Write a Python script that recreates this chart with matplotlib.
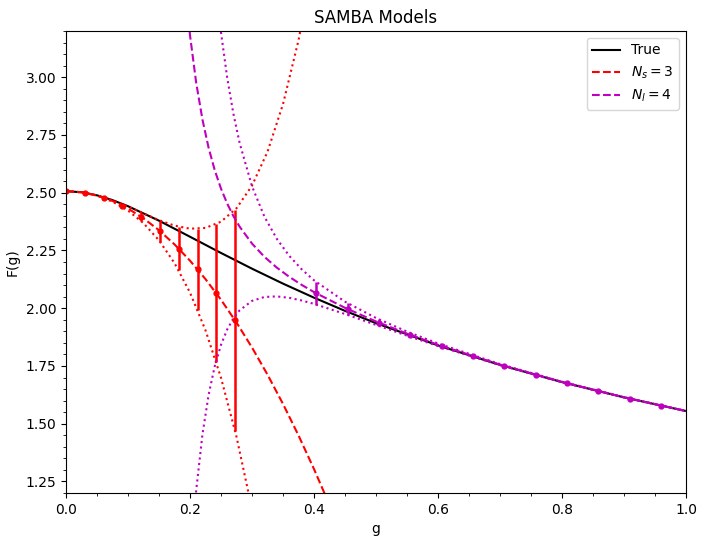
import matplotlib
matplotlib.use("Agg")
from matplotlib import pyplot as plt

# true curve F(g)
g_true = [0.0, 0.025, 0.05, 0.075, 0.1, 0.15, 0.2, 0.25, 0.3, 0.35, 0.4, 0.45,
          0.5, 0.6, 0.7, 0.8, 0.9, 1.0]
F_true = [2.5066, 2.5020, 2.4886, 2.4679, 2.4415, 2.3789, 2.3093, 2.2391, 2.1711,
          2.1064, 2.0456, 1.9885, 1.9353, 1.8389, 1.7545, 1.6801, 1.6140, 1.5548]

# small-g model, N_s = 3
g_low = [0.0, 0.025, 0.05, 0.075, 0.1, 0.125, 0.15, 0.175, 0.2, 0.225, 0.25,
         0.275, 0.3, 0.325, 0.35, 0.375, 0.4, 0.425]
F_low = [2.5066, 2.5019, 2.4878, 2.4643, 2.4314, 2.3891, 2.3374, 2.2763, 2.2058,
         2.1259, 2.0366, 1.9379, 1.8298, 1.7123, 1.5855, 1.4492, 1.3035, 1.1484]
F_low_up = [2.5066, 2.5020, 2.4884, 2.4671, 2.4401, 2.4103, 2.3812, 2.3575,
            2.3442, 2.3476, 2.3745, 2.4327, 2.5305, 2.6774, 2.8835, 3.1597, 3.5179]
F_low_dn = [2.5066, 2.5019, 2.4873, 2.4616, 2.4228, 2.3680, 2.2936, 2.1952,
            2.0674, 1.9043, 1.6988, 1.4432, 1.1292]

g_low_pts = [0.0, 0.0303, 0.0606, 0.0909, 0.1212, 0.1515, 0.1818, 0.2121,
             0.2424, 0.2727]
F_low_pts = [2.5066, 2.4997, 2.4790, 2.4445, 2.3962, 2.3340, 2.2580, 2.1683,
             2.0647, 1.9473]
err_low_pts = [0.0, 0.0001, 0.0012, 0.0059, 0.0187, 0.0456, 0.0945, 0.1751,
               0.2988, 0.4786]

# large-g model, N_l = 4
g_high = [0.19, 0.20, 0.21, 0.22, 0.23, 0.24, 0.25, 0.26, 0.27, 0.28, 0.30, 0.32,
          0.34, 0.36, 0.38, 0.40, 0.45, 0.50, 0.55, 0.60, 0.70, 0.80, 0.90, 1.0]
F_high = [3.4548, 3.1811, 2.9751, 2.8173, 2.6941, 2.5964, 2.5175, 2.4528, 2.3988,
          2.3531, 2.2797, 2.2224, 2.1757, 2.1360, 2.1011, 2.0697, 2.0016, 1.9427,
          1.8900, 1.8418, 1.7558, 1.6807, 1.6143, 1.5550]
F_high_up = [6.5123, 5.4870, 4.7383, 4.1825, 3.7632, 3.4423, 3.1933, 2.9975,
             2.8414, 2.7155, 2.5276, 2.3963, 2.3003, 2.2269, 2.1687, 2.1207,
             2.0282, 1.9577, 1.8988, 1.8473, 1.7581, 1.6818, 1.6149, 1.5553]
F_high_dn = [0.3973, 0.8752, 1.2119, 1.4521, 1.6250, 1.7504, 1.8417, 1.9081,
             1.9562, 1.9908, 2.0317, 2.0486, 2.0511, 2.0450, 2.0335, 2.0188,
             1.9749, 1.9278, 1.8811, 1.8363, 1.7535, 1.6796, 1.6137, 1.5547]

g_high_pts = [0.4040, 0.4545, 0.5051, 0.5556, 0.6061, 0.6566, 0.7071, 0.7576,
              0.8081, 0.8586, 0.9091, 0.9596]
F_high_pts = [2.0638, 1.9959, 1.9372, 1.8844, 1.8362, 1.7916, 1.7502, 1.7114,
              1.6751, 1.6409, 1.6086, 1.5782]
err_high_pts = [0.0482, 0.0252, 0.0141, 0.0084, 0.0052, 0.0033, 0.0022, 0.0015,
                0.0011, 0.0008, 0.0006, 0.0004]

fig = plt.figure(figsize=(7.06, 5.41), dpi=100)
ax = fig.add_subplot(111)
fig.subplots_adjust(left=0.0935, right=0.9717, bottom=0.0887, top=0.9427)

ax.plot(g_true, F_true, 'k', linewidth=1.5, label='True')

ax.plot(g_low, F_low, 'r--', linewidth=1.5, label=r'$N_s = 3$')
ax.plot(g_low[:len(F_low_up)], F_low_up, 'r:', linewidth=1.5)
ax.plot(g_low[:len(F_low_dn)], F_low_dn, 'r:', linewidth=1.5)
ax.errorbar(g_low_pts, F_low_pts, yerr=err_low_pts, fmt='o', color='r',
            markersize=3.5, elinewidth=1.8, capsize=0)

ax.plot(g_high, F_high, 'm--', linewidth=1.5, label=r'$N_l = 4$')
ax.plot(g_high, F_high_up, 'm:', linewidth=1.5)
ax.plot(g_high, F_high_dn, 'm:', linewidth=1.5)
ax.errorbar(g_high_pts, F_high_pts, yerr=err_high_pts, fmt='o', color='m',
            markersize=3.5, elinewidth=1.8, capsize=0)

ax.set_xlim(0.0, 1.0)
ax.set_ylim(1.2, 3.2)
ax.minorticks_on()
ax.set_xlabel('g')
ax.set_ylabel('F(g)')
ax.set_title('SAMBA Models')
ax.legend(loc='upper right')

fig.savefig('out.png', dpi=100)
